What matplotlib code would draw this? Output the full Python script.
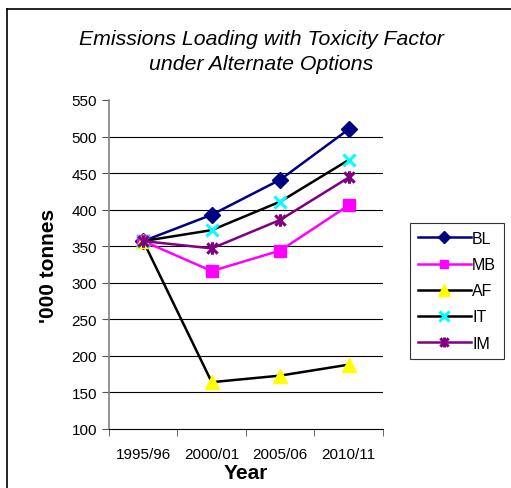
import matplotlib
matplotlib.use("Agg")
import matplotlib.pyplot as plt
from matplotlib.lines import Line2D
from matplotlib.path import Path

plt.rcParams["font.family"] = ["Liberation Sans", "DejaVu Sans"]

years = ["1995/96", "2000/01", "2005/06", "2010/11"]
bl = [357, 393, 441, 510]
mb = [357, 316, 344, 406]
af = [357, 164, 173, 188]
it = [357, 372, 411, 468]
im = [357, 347, 386, 444]

# Excel-style star: an "x" with a vertical bar through it
star = Path([(-1, -1), (1, 1), (-1, 1), (1, -1), (0, -1.2), (0, 1.2)],
            [Path.MOVETO, Path.LINETO, Path.MOVETO, Path.LINETO, Path.MOVETO, Path.LINETO])

series = [
    ("BL", bl, "#000080", "#000080", "D", 8),
    ("MB", mb, "#FF00FF", "#FF00FF", "s", 8),
    ("AF", af, "black", "#FFFF00", "^", 10),
    ("IT", it, "black", "#00FFFF", "x", 9),
    ("IM", im, "#800080", "#800080", star, 9),
]

fig = plt.figure(figsize=(5.11, 4.89), dpi=100)
ax = fig.add_axes([0.2133, 0.1207, 0.5362, 0.6728])

x = range(len(years))
for name, vals, lc, mc, mk, ms in series:
    thick = mk is star or mk == "x"
    ax.plot(x, vals, color=lc, lw=1.8, marker=mk, ms=ms, mfc=mc, mec=mc,
            mew=2.2 if thick else 1, label=name)

ax.set_xlim(-0.5, 3.5)
ax.set_ylim(100, 550)
ax.set_yticks(range(100, 551, 50))
ax.set_xticks(list(x))
ax.set_xticklabels(years)
ax.set_xticks([-0.5, 0.5, 1.5, 2.5, 3.5], minor=True)
ax.tick_params(axis="x", which="major", length=0, labelsize=11, pad=13)
ax.tick_params(axis="x", which="minor", length=5, direction="out", color="#555555")
ax.tick_params(axis="y", length=5, direction="out", labelsize=11, color="#555555")
for v in range(150, 551, 50):
    if v < 550:
        ax.axhline(v, color="black", lw=0.8, zorder=0)
for s in ("top", "right"):
    ax.spines[s].set_visible(False)
ax.spines["left"].set_color("#808080")
ax.spines["left"].set_linewidth(1.2)
ax.spines["bottom"].set_color("black")

ax.set_xlabel("Year", fontsize=15, fontweight="bold", labelpad=1.5)
ax.set_ylabel("'000 tonnes", fontsize=15, fontweight="bold", labelpad=10)

fig.text(0.511, 0.893, "Emissions Loading with Toxicity Factor\nunder Alternate Options",
         ha="center", va="center", fontsize=15.3, style="italic", linespacing=1.4)

leg = fig.legend(loc="upper left", bbox_to_anchor=(0.802, 0.542), fontsize=11.5,
                 frameon=True, fancybox=False, edgecolor="black", handlelength=3.3,
                 handletextpad=0.1, labelspacing=0.7, borderpad=0.5, borderaxespad=0,
                 markerscale=0.8)
leg.get_frame().set_linewidth(0.8)

# outer chart border (top and left visible)
fig.add_artist(Line2D([7 / 511, 7 / 511], [0, 1 - 10 / 489], color="black", lw=1.2,
                      transform=fig.transFigure))
fig.add_artist(Line2D([7 / 511, 1], [1 - 10 / 489, 1 - 10 / 489], color="black", lw=1.2,
                      transform=fig.transFigure))

fig.savefig("out.png", dpi=100)
